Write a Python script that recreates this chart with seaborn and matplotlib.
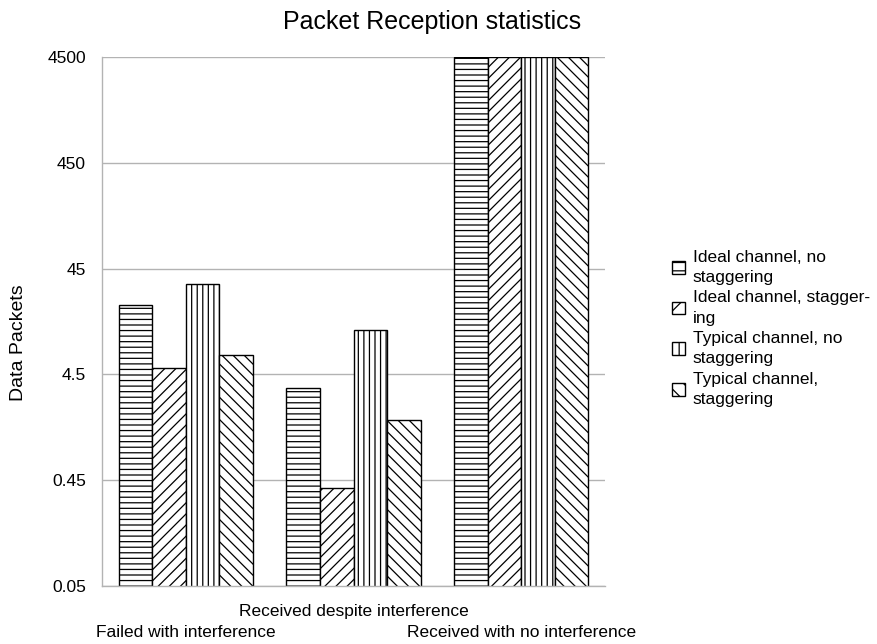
import pandas as pd
import seaborn as sns
import matplotlib.pyplot as plt
from matplotlib.patches import Patch

# Данные
groups = ['Failed with interference', 'Received despite interference', 'Received with no interference']
series = ['Ideal channel, no\nstaggering', 'Ideal channel, stagger-\ning',
          'Typical channel, no\nstaggering', 'Typical channel,\nstaggering']
ideal_no_stagger = [20.4, 3.34, 4500]
ideal_stagger = [5.16, 0.38, 4500]
typical_no_stagger = [32.2, 11.8, 4500]
typical_stagger = [6.86, 1.67, 4500]
ytick_values = [0.045, 0.45, 4.5, 45, 450, 4500]
ytick_labels = ['0.05', '0.45', '4.5', '45', '450', '4500']

hatches = ['---', '///', '|||', '\\\\\\']
legend_hatches = ['--', '//', '||', '\\\\']

df = pd.DataFrame({
    'Group': groups * 4,
    'Series': [s for s in series for _ in groups],
    'Packets': ideal_no_stagger + ideal_stagger + typical_no_stagger + typical_stagger,
})

sns.set_style('white')
plt.rcParams['font.family'] = ['Liberation Sans', 'DejaVu Sans']
plt.rcParams['hatch.linewidth'] = 0.9
plt.rcParams['text.color'] = 'black'
plt.rcParams['axes.labelcolor'] = 'black'
plt.rcParams['xtick.labelcolor'] = 'black'
plt.rcParams['ytick.labelcolor'] = 'black'

fig = plt.figure(figsize=(8.77, 6.44), dpi=100)
ax = fig.add_axes([0.1163, 0.0901, 0.5736, 0.8214])

sns.barplot(data=df, x='Group', y='Packets', hue='Series', order=groups, hue_order=series,
            palette=['white'] * 4, edgecolor='black', linewidth=1, saturation=1,
            legend=False, ax=ax)

for cont, h in zip(ax.containers, hatches):
    for bar in cont:
        bar.set_hatch(h)
        bar.set_edgecolor('black')

ax.set_yscale('log')
ax.set_ylim(0.045, 4500)
ax.set_yticks(ytick_values)
ax.set_yticklabels(ytick_labels)
ax.minorticks_off()
ax.yaxis.grid(True, color='#b3b3b3', linewidth=1)
ax.set_axisbelow(True)

# Подписи групп в шахматном порядке, деления на границах групп
ax.set_xlim(-0.5, 2.5)
ax.set_xticks([0, 1, 2])
ax.set_xticklabels(groups)
ax.set_xticks([-0.5, 0.5, 1.5, 2.5], minor=True)
ax.tick_params(axis='x', which='major', length=0, labelsize=12.5, pad=13)
ax.tick_params(axis='x', which='minor', length=8, color='#b3b3b3', width=1, direction='out')
ax.tick_params(axis='y', length=8, color='#b3b3b3', width=1, labelsize=12.5, direction='out')
major = ax.xaxis.get_major_ticks()
major[0].set_pad(28)
major[2].set_pad(28)

for s in ['top', 'right']:
    ax.spines[s].set_visible(False)
for s in ['left', 'bottom']:
    ax.spines[s].set_color('#b3b3b3')
    ax.spines[s].set_linewidth(1)

ax.set_xlabel('')
ax.set_ylabel('Data Packets', fontsize=14)
ax.yaxis.set_label_coords(-0.149, 0.46)

fig.suptitle('Packet Reception statistics', fontsize=18, x=0.493, y=0.985)

handles = [Patch(facecolor='white', edgecolor='black', hatch=h, label=s)
           for h, s in zip(legend_hatches, series)]
leg = fig.legend(handles=handles, loc='center left', bbox_to_anchor=(0.766, 0.49),
                 frameon=False, fontsize=12.5, handlelength=0.75, handleheight=0.75,
                 handletextpad=0.45, labelspacing=0.3, borderaxespad=0, borderpad=0)
for t in leg.get_texts():
    t.set_linespacing(1.45)

plt.savefig('out.png', dpi=100)
